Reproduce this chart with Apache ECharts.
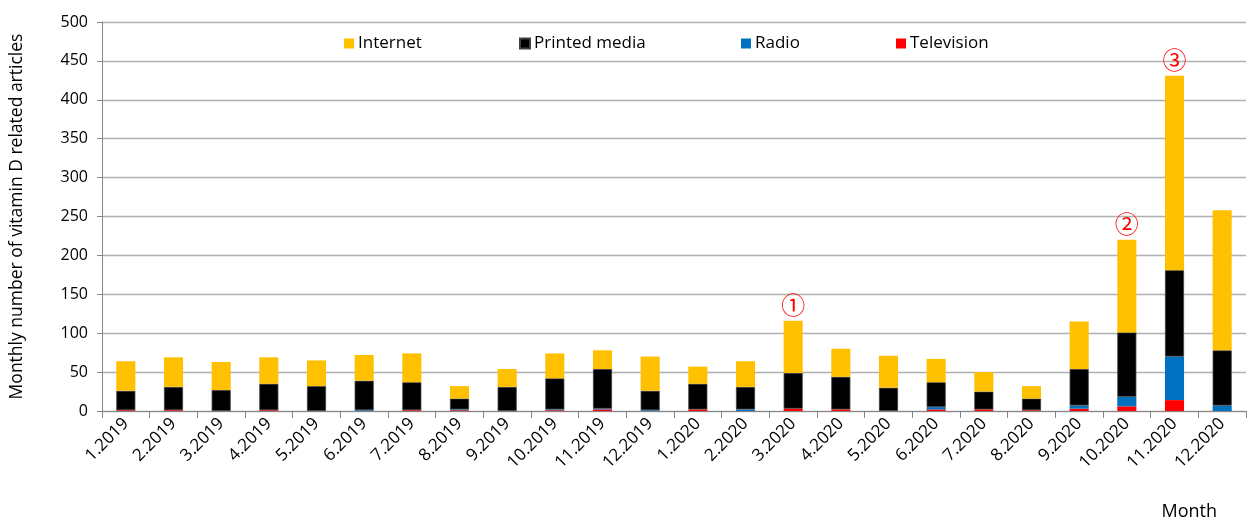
<!DOCTYPE html>
<html>
<head>
<meta charset="utf-8">
<script src="https://cdn.jsdelivr.net/npm/echarts@6/dist/echarts.min.js"></script>
<style>html,body{margin:0;padding:0;background:#fff;}#c{width:1249px;height:523px;}</style>
</head>
<body>
<div id="c"></div>
<script>
const months = ['1.2019','2.2019','3.2019','4.2019','5.2019','6.2019','7.2019','8.2019','9.2019','10.2019','11.2019','12.2019',
  '1.2020','2.2020','3.2020','4.2020','5.2020','6.2020','7.2020','8.2020','9.2020','10.2020','11.2020','12.2020'];
const television = [1,1,0,1,0,0,1,1,0,1,2,0,2,0,3,2,0,2,2,1,3,6,14,0];
const radio      = [0,0,0,0,0,1,0,1,0,1,1,1,0,2,0,0,0,3,0,0,4,12,56,7];
const printed    = [25,30,27,34,32,38,36,14,31,40,51,25,33,29,46,42,30,32,23,15,47,83,111,71];
const internet   = [38,38,36,34,33,33,37,16,23,32,24,44,22,33,67,36,41,30,25,16,61,119,250,180];
const annotations = {'3.2020':'①','10.2020':'②','11.2020':'③'};
const yTicks = {min:0, max:500, interval:50};

const FONT = 'Open Sans, Liberation Sans, sans-serif';
const internetData = internet.map((v,i)=>{
  const a = annotations[months[i]];
  if (!a) return v;
  return {value:v, label:{show:true, position:'top', distance:4, formatter:a,
    color:'#FF0000', fontSize:24, fontFamily:'Noto Sans CJK JP, DejaVu Sans, sans-serif'}};
});

function legendAt(name, left){
  return {data:[name], left:left, top:30, itemWidth:10, itemHeight:10, icon:'rect', itemGap:0,
    textStyle:{fontSize:17, fontFamily:FONT, color:'#000', padding:[0,0,0,-1]}, selectedMode:false};
}

const chart = echarts.init(document.getElementById('c'), null, {renderer:'canvas'});
chart.setOption({
  animation:false,
  backgroundColor:'#fff',
  title:{text:'Month', right:27, bottom:-3, textStyle:{fontSize:18, fontWeight:'normal', fontFamily:FONT, color:'#000'}},
  legend:[legendAt('Internet',339), legendAt('Printed media',514), legendAt('Radio',736), legendAt('Television',891)],
  grid:{left:101, right:3, top:22, bottom:112},
  xAxis:{type:'category', data:months,
    axisLine:{lineStyle:{color:'#868686', width:1}},
    axisTick:{show:true, length:7, lineStyle:{color:'#868686'}},
    axisLabel:{rotate:45, fontSize:17, fontFamily:FONT, color:'#000', margin:10, interval:0}},
  yAxis:{type:'value', min:yTicks.min, max:yTicks.max, interval:yTicks.interval,
    name:'Monthly number of vitamin D related articles', nameLocation:'middle', nameGap:76,
    nameTextStyle:{fontSize:17.5, fontFamily:FONT, color:'#000'},
    axisLine:{show:true, lineStyle:{color:'#868686'}},
    axisTick:{show:true, length:5, lineStyle:{color:'#868686'}},
    axisLabel:{fontSize:16, fontFamily:FONT, color:'#000', margin:14},
    splitLine:{lineStyle:{color:'#B0B0B0', width:1.3}}},
  series:[
    {name:'Television', type:'bar', stack:'s', data:television, barWidth:'40%', itemStyle:{color:'#FF0000'}},
    {name:'Radio', type:'bar', stack:'s', data:radio, itemStyle:{color:'#0070C0'}},
    {name:'Printed media', type:'bar', stack:'s', data:printed, itemStyle:{color:'#000000', borderColor:'#404040', borderWidth:0.8}},
    {name:'Internet', type:'bar', stack:'s', data:internetData, itemStyle:{color:'#FFC000'}}
  ]
});
</script>
</body>
</html>
